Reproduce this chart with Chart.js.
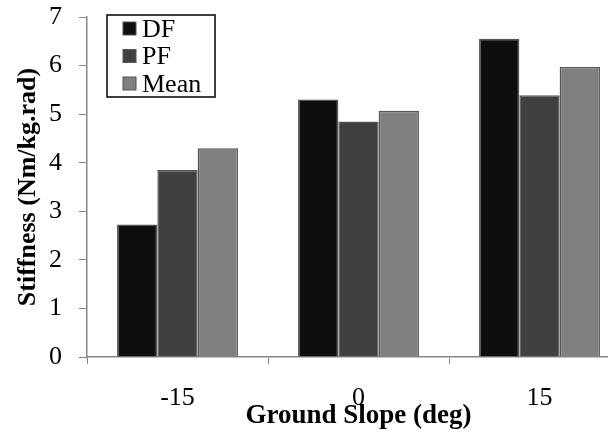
<!DOCTYPE html>
<html>
<head>
<meta charset="utf-8">
<script src="https://cdn.jsdelivr.net/npm/chart.js@4"></script>
<style>
  html, body { margin: 0; padding: 0; background: #fff; overflow: hidden; }
  #wrap { position: relative; width: 640px; height: 449px; margin-top: -13px; }
</style>
</head>
<body>
<div id="wrap"><canvas id="chart"></canvas></div>
<script>
// values
const slopes = ['-15', '0', '15'];
const dfValues = [2.73, 5.30, 6.55];
const pfValues = [3.85, 4.85, 5.39];
const meanValues = [4.30, 5.07, 5.97];
const seriesNames = ['DF', 'PF', 'Mean'];
const seriesColors = ['#0e0e0e', '#404040', '#808080'];

const serif = "'Liberation Serif', 'Times New Roman', serif";
const axisGray = '#868686';

// Excel-style legend box sitting inside the plot, top left
const boxLegend = {
    id: 'boxLegend',
    afterDraw(chart) {
        const ctx = chart.ctx;
        const area = chart.chartArea;
        const x = area.left + 20, y = area.top - 2;
        const w = 108, h = 82;
        ctx.save();
        ctx.fillStyle = '#fff';
        ctx.fillRect(x, y, w, h);
        ctx.strokeStyle = '#000';
        ctx.lineWidth = 1.5;
        ctx.strokeRect(x, y, w, h);
        ctx.font = '26px ' + serif;
        ctx.textBaseline = 'middle';
        chart.data.datasets.forEach((ds, i) => {
            const cy = y + 14 + i * 27.5;
            ctx.fillStyle = ds.backgroundColor;
            ctx.fillRect(x + 16, cy - 7, 13, 13);
            ctx.strokeStyle = '#555';
            ctx.lineWidth = 1;
            ctx.strokeRect(x + 16, cy - 7, 13, 13);
            ctx.fillStyle = '#000';
            ctx.fillText(ds.label, x + 35, cy + 1);
        });
        ctx.restore();
    }
};

const allValues = [dfValues, pfValues, meanValues];

new Chart(document.getElementById('chart'), {
    type: 'bar',
    data: {
        labels: slopes,
        datasets: allValues.map((vals, i) => ({
            label: seriesNames[i],
            data: vals,
            backgroundColor: seriesColors[i],
            borderColor: '#555555',
            borderWidth: 1.5,
            categoryPercentage: 0.668,
            barPercentage: 1
        }))
    },
    options: {
        responsive: true,
        maintainAspectRatio: false,
        animation: false,
        layout: { padding: { left: 0, top: 0, right: 10, bottom: 0 } },
        plugins: {
            legend: { display: false },
            tooltip: { enabled: false }
        },
        scales: {
            x: {
                grid: { drawOnChartArea: false, drawTicks: true, tickLength: 7, color: axisGray, offset: true },
                border: { color: axisGray, width: 1.5 },
                ticks: { color: '#000', font: { family: serif, size: 26, lineHeight: 1 }, padding: 21 },
                title: {
                    display: true,
                    text: 'Ground Slope (deg)',
                    color: '#000',
                    font: { family: serif, size: 27, weight: 'bold', lineHeight: 1 },
                    padding: { top: -29, bottom: 6 }
                }
            },
            y: {
                min: 0,
                max: 7,
                grid: { drawOnChartArea: false, drawTicks: true, tickLength: 8, color: axisGray },
                border: { color: axisGray, width: 1.5 },
                ticks: { stepSize: 1, color: '#000', font: { family: serif, size: 26, lineHeight: 1 }, padding: 17 },
                title: {
                    display: true,
                    text: 'Stiffness (Nm/kg.rad)',
                    color: '#000',
                    font: { family: serif, size: 26, weight: 'bold', lineHeight: 1 },
                    padding: { top: 15, bottom: -9 }
                }
            }
        }
    },
    plugins: [boxLegend]
});
</script>
</body>
</html>
